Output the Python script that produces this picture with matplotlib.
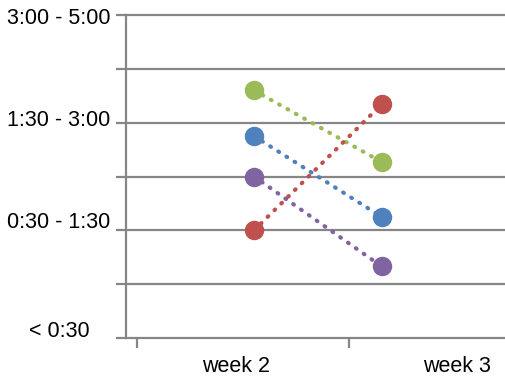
import numpy as np
import matplotlib.pyplot as plt

# time-spent bands on the y axis (gridline index -> label)
band_ticks = [0, 2, 4, 6]
band_labels = ["< 0:30", "0:30 - 1:30", "1:30 - 3:00", "3:00 - 5:00"]
weeks = ["week 2", "week 3"]

# per-person value at start and end of the period
green = [4.6, 3.27]
blue = [3.75, 2.25]
purple = [3.0, 1.33]
red = [2.0, 4.34]

colors = {"green": "#9BBB59", "blue": "#4F81BD", "purple": "#8064A2", "red": "#C0504D"}
series = [("green", green), ("blue", blue), ("purple", purple), ("red", red)]

fig = plt.figure(figsize=(5.06, 3.78), dpi=100)
ax = fig.add_axes([126 / 506, 1 - 338 / 378, 380 / 506, 323 / 378])

grid_color = "#868686"
font = "Liberation Sans"
fsize = 15.5
xs = [0.052, 0.654]
for name, vals in series:
    ax.plot(xs, vals, linestyle=(0, (0.2, 2.1)), dash_capstyle="round",
            linewidth=3.0, color=colors[name], zorder=3)
    ax.plot(xs, vals, linestyle="none", marker="o", markersize=13,
            color=colors[name], zorder=4)

ax.set_xlim(-0.552, 1.2406)
ax.set_ylim(0, 6)

# horizontal gridlines, one per band step
for y in range(1, 7):
    ax.axhline(y, color=grid_color, linewidth=1.6, zorder=1, clip_on=False)

ax.set_yticks(range(7))
ax.set_yticklabels([])
ax.tick_params(axis="y", length=7, width=1.6, color=grid_color)

# band labels, centred in the left margin, nudged off their gridlines
nudge = {0: 6.5, 2: 7.2, 4: 3.6, 6: -1.0}
for tick, label in zip(band_ticks, band_labels):
    ax.annotate(label, xy=(0, tick), xycoords=ax.get_yaxis_transform(),
                xytext=(-48.2, nudge[tick]), textcoords="offset points",
                ha="center", va="center_baseline", fontsize=fsize,
                fontfamily=font, annotation_clip=False)

ax.set_xticks([-0.033, 1.01])
ax.set_xticklabels(weeks)
ax.set_xticks([-0.5, 0.5], minor=True)
ax.tick_params(axis="x", which="major", length=0, pad=13, labelsize=fsize)
ax.tick_params(axis="x", which="minor", length=7, width=1.6, color=grid_color)

for side in ["top", "right"]:
    ax.spines[side].set_visible(False)
for side in ["left", "bottom"]:
    ax.spines[side].set_color(grid_color)
    ax.spines[side].set_linewidth(1.6)

for t in ax.get_xticklabels():
    t.set_fontfamily(font)

fig.savefig("out.png", dpi=100)
